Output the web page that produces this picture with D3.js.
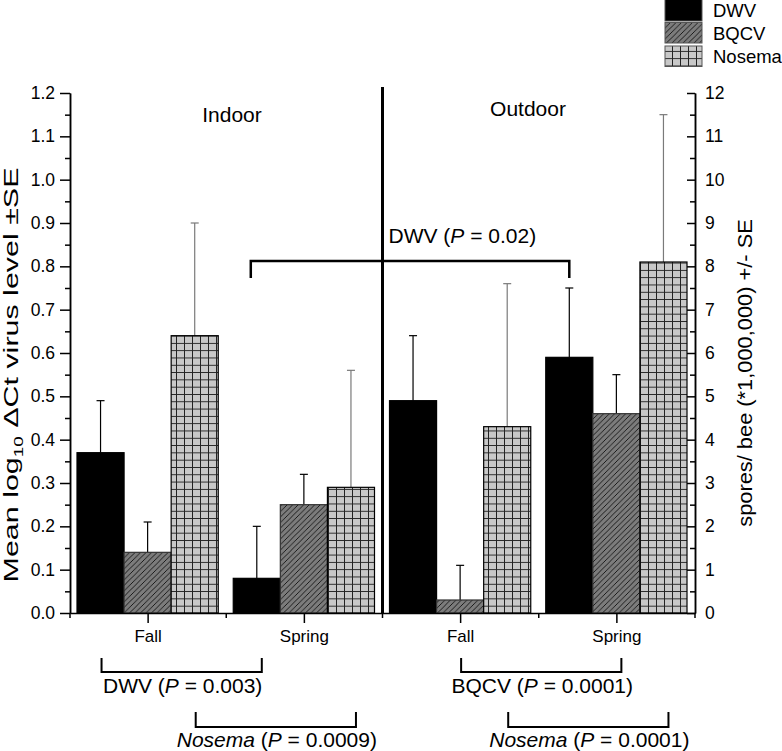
<!DOCTYPE html>
<html>
<head>
<meta charset="utf-8">
<script src="https://cdn.jsdelivr.net/npm/d3@7"></script>
<style>
  html, body { margin: 0; padding: 0; background: #fff; }
  svg { display: block; font-family: "Liberation Sans", Arial, sans-serif; }
</style>
</head>
<body>
<svg id="chart" width="782" height="751"></svg>
<script>
// ---------- data ----------
const groups = ["Indoor Fall", "Indoor Spring", "Outdoor Fall", "Outdoor Spring"];
const seasonLabels = ["Fall", "Spring", "Fall", "Spring"];
const seriesNames = ["DWV", "BQCV", "Nosema"];
const dwvValues = [0.37, 0.08, 0.49, 0.59];
const dwvErrTop = [0.49, 0.20, 0.64, 0.75];
const bqcvValues = [0.14, 0.25, 0.03, 0.46];
const bqcvErrTop = [0.21, 0.32, 0.11, 0.55];
const nosemaValues = [6.4, 2.9, 4.3, 8.1];      // right axis (spores/bee *1,000,000)
const nosemaErrTop = [9.0, 5.6, 7.6, 11.5];
const leftTicks = [0, 0.1, 0.2, 0.3, 0.4, 0.5, 0.6, 0.7, 0.8, 0.9, 1.0, 1.1, 1.2];
const rightTicks = [0, 1, 2, 3, 4, 5, 6, 7, 8, 9, 10, 11, 12];
const sectionLabels = ["Indoor", "Outdoor"];
const topComparison = { label: "DWV", p: "0.02", series: "DWV", from: "Indoor Spring", to: "Outdoor Spring" };
const bottomComparisons = [
  { label: "DWV", italic: false, p: "0.003", series: "DWV", from: "Indoor Fall", to: "Indoor Spring", row: 0 },
  { label: "Nosema", italic: true, p: "0.0009", series: "Nosema", from: "Indoor Fall", to: "Indoor Spring", row: 1 },
  { label: "BQCV", italic: false, p: "0.0001", series: "BQCV", from: "Outdoor Fall", to: "Outdoor Spring", row: 0 },
  { label: "Nosema", italic: true, p: "0.0001", series: "Nosema", from: "Outdoor Fall", to: "Outdoor Spring", row: 1 }
];

// ---------- layout ----------
const svg = d3.select("#chart");
const mLeft = 70, mRight = 695, mTop = 93, mBottom = 613;

const x = d3.scaleBand().domain(groups).range([mLeft, mRight]).padding(0);
const xs = d3.scaleBand().domain(seriesNames).range([7, x.bandwidth() - 8]).padding(0);
const yL = d3.scaleLinear().domain([0, 1.2]).range([mBottom, mTop]);
const yR = d3.scaleLinear().domain([0, 12]).range([mBottom, mTop]);

// patterns
const defs = svg.append("defs");
const pDiag = defs.append("pattern").attr("id", "diag").attr("patternUnits", "userSpaceOnUse")
  .attr("width", 5.5).attr("height", 5.5);
pDiag.append("rect").attr("width", 5.5).attr("height", 5.5).attr("fill", "#7c7c7c");
pDiag.append("path").attr("d", "M0,5.5 L5.5,0 M-1,1 L1,-1 M4.5,6.5 L6.5,4.5")
  .attr("stroke", "#111").attr("stroke-width", 0.9);
const pGrid = defs.append("pattern").attr("id", "grid").attr("patternUnits", "userSpaceOnUse")
  .attr("width", 8).attr("height", 7.3).attr("y", mBottom);
pGrid.append("rect").attr("width", 8).attr("height", 7.3).attr("fill", "#c8c8c8");
pGrid.append("path").attr("d", "M0.5,0 V7.3 M0,0.5 H8").attr("stroke", "#222").attr("stroke-width", 1);

const fills = { DWV: "#000", BQCV: "url(#diag)", Nosema: "url(#grid)" };
const errColor = { DWV: "#000", BQCV: "#000", Nosema: "#7a7a7a" };

const rows = [];
groups.forEach((g, i) => {
  rows.push({ g, s: "DWV", v: dwvValues[i], e: dwvErrTop[i], y: yL });
  rows.push({ g, s: "BQCV", v: bqcvValues[i], e: bqcvErrTop[i], y: yL });
  rows.push({ g, s: "Nosema", v: nosemaValues[i], e: nosemaErrTop[i], y: yR });
});

// error bars (drawn behind the bars)
const eb = svg.append("g");
rows.forEach(d => {
  const cx = x(d.g) + xs(d.s) + xs.bandwidth() / 2;
  eb.append("line").attr("x1", cx).attr("x2", cx).attr("y1", d.y(d.v)).attr("y2", d.y(d.e))
    .attr("stroke", errColor[d.s]).attr("stroke-width", 1.2);
  eb.append("line").attr("x1", cx - 4).attr("x2", cx + 4).attr("y1", d.y(d.e)).attr("y2", d.y(d.e))
    .attr("stroke", errColor[d.s]).attr("stroke-width", 1.2);
});

// bars
svg.append("g").selectAll("rect").data(rows).join("rect")
  .attr("x", d => x(d.g) + xs(d.s))
  .attr("width", xs.bandwidth())
  .attr("y", d => d.y(d.v))
  .attr("height", d => mBottom - d.y(d.v))
  .attr("fill", d => fills[d.s])
  .attr("stroke", d => d.s === "BQCV" ? "#333" : "#000")
  .attr("stroke-width", 1.2);

// ---------- axes ----------
const axisStyle = size => g => {
  g.selectAll("path, line").attr("stroke", "#000").attr("stroke-width", 1.5);
  g.selectAll("text").attr("font-family", "Liberation Sans, Arial, sans-serif").attr("font-size", size).attr("fill", "#000");
};
// left
const minorL = d3.range(0.05, 1.2, 0.1);
svg.append("g").attr("transform", `translate(${mLeft},0)`)
  .call(d3.axisLeft(yL).tickValues(minorL).tickSize(5).tickSizeOuter(0).tickFormat(""))
  .call(axisStyle(17.5));
svg.append("g").attr("transform", `translate(${mLeft},0)`)
  .call(d3.axisLeft(yL).tickValues(leftTicks).tickSize(10).tickSizeOuter(0).tickPadding(5).tickFormat(d3.format(".1f")))
  .call(axisStyle(17.5));
// right
const minorR = d3.range(0.5, 12, 1);
svg.append("g").attr("transform", `translate(${mRight},0)`)
  .call(d3.axisRight(yR).tickValues(minorR).tickSize(-5).tickSizeOuter(0).tickFormat(""))
  .call(axisStyle(17.5));
svg.append("g").attr("transform", `translate(${mRight},0)`)
  .call(d3.axisRight(yR).tickValues(rightTicks).tickSize(-8).tickSizeOuter(0).tickPadding(10).tickFormat(d3.format("d")))
  .call(axisStyle(17.5));
// bottom
svg.append("g").attr("transform", `translate(0,${mBottom})`)
  .call(d3.axisBottom(x).tickSize(10).tickSizeOuter(0).tickPadding(7).tickFormat((d, i) => seasonLabels[i]))
  .call(axisStyle(17));
const boundaries = groups.map(g => x(g)).concat([mRight]);
svg.append("g").selectAll("line").data(boundaries).join("line")
  .attr("x1", d => d).attr("x2", d => d).attr("y1", mBottom).attr("y2", mBottom + 5)
  .attr("stroke", "#000").attr("stroke-width", 1.5);

// divider between Indoor and Outdoor
const divX = x("Outdoor Fall");
svg.append("line").attr("x1", divX).attr("x2", divX).attr("y1", 87).attr("y2", mBottom)
  .attr("stroke", "#000").attr("stroke-width", 3);

// section labels
svg.append("text").attr("x", 232).attr("y", 122).attr("text-anchor", "middle")
  .attr("font-size", 21).text(sectionLabels[0]);
svg.append("text").attr("x", 528).attr("y", 116).attr("text-anchor", "middle")
  .attr("font-size", 21).text(sectionLabels[1]);

// ---------- comparison brackets ----------
const barCenter = (g, s) => x(g) + xs(s) + xs.bandwidth() / 2;
function pText(sel, c) {
  const t = sel.append("text");
  t.append("tspan").attr("font-style", c.italic ? "italic" : "normal").text(c.label);
  t.append("tspan").text(" (");
  t.append("tspan").attr("font-style", "italic").text("P");
  t.append("tspan").text(" = " + c.p + ")");
  return t;
}
// top bracket
{
  const x1 = barCenter(topComparison.from, topComparison.series) - 6;
  const x2 = barCenter(topComparison.to, topComparison.series);
  svg.append("path").attr("d", `M${x1},278 V261 H${x2} V278`)
    .attr("fill", "none").attr("stroke", "#000").attr("stroke-width", 2.5);
  pText(svg, topComparison).attr("x", divX + 6).attr("y", 243).attr("font-size", 21);
}
// bottom brackets
const rowBracket = [{ y1: 658, y2: 672, ty: 693 }, { y1: 712, y2: 727, ty: 747 }];
bottomComparisons.forEach(c => {
  const r = rowBracket[c.row];
  const x1 = barCenter(c.from, c.series) + 1;
  const x2 = barCenter(c.to, c.series) + 5;
  svg.append("path").attr("d", `M${x1},${r.y1} V${r.y2} H${x2} V${r.y1}`)
    .attr("fill", "none").attr("stroke", "#000").attr("stroke-width", 2);
  pText(svg, c).attr("x", (x1 + x2) / 2 + 1).attr("y", r.ty).attr("text-anchor", "middle").attr("font-size", 21);
});

// ---------- axis titles ----------
{
  const g = svg.append("g").attr("transform", "translate(18,375) rotate(-90)");
  const t = g.append("text").attr("text-anchor", "middle").attr("font-size", 21)
    .attr("transform", "scale(1.45,1)");
  t.append("tspan").text("Mean log");
  t.append("tspan").attr("font-size", 13).attr("dy", 5).text("10");
  t.append("tspan").attr("dy", -5).text(" \u0394Ct virus level \u00B1SE");
}
{
  const g = svg.append("g").attr("transform", "translate(752,373) rotate(-90)");
  g.append("text").attr("text-anchor", "middle").attr("font-size", 21)
    .attr("transform", "scale(1.04,1)")
    .text("spores/ bee (*1,000,000) +/- SE");
}

// ---------- legend ----------
const leg = svg.append("g");
seriesNames.forEach((s, i) => {
  const y0 = -1 + i * 23.5;
  leg.append("rect").attr("x", 665).attr("y", y0).attr("width", 37).attr("height", i === 0 ? 22 : 20.5)
    .attr("fill", fills[s]).attr("stroke", "#555").attr("stroke-width", 1);
  leg.append("text").attr("x", 713).attr("y", 17 + i * 23).attr("font-size", 18.5).text(s);
});
</script>
</body>
</html>
